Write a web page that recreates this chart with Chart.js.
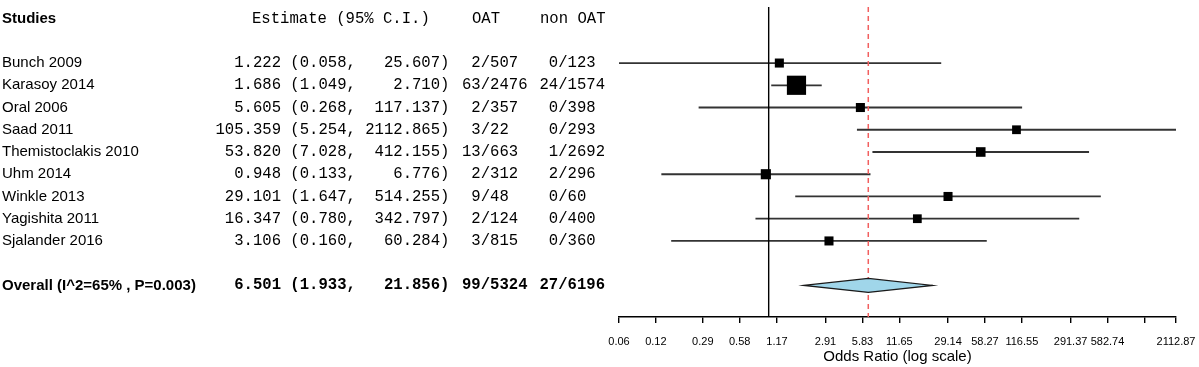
<!DOCTYPE html>
<html>
<head>
<meta charset="utf-8">
<script src="https://cdn.jsdelivr.net/npm/chart.js@4.4.1/dist/chart.umd.min.js"></script>
<style>
  html, body { margin: 0; background: #fff; }
  #wrap { position: relative; width: 1199px; height: 367px; }
</style>
</head>
<body>
<div id="wrap"><canvas id="forest"></canvas></div>
<script>
// Forest plot OAT vs non OAT — odds ratio per studie, log-schaal
// Rij i = studie i, kop op rij -2, overall op rij 10

const studies   = ['Bunch 2009', 'Karasoy 2014', 'Oral 2006', 'Saad 2011', 'Themistoclakis 2010',
                   'Uhm 2014', 'Winkle 2013', 'Yagishita 2011', 'Sjalander 2016'];
const estimate  = [1.222, 1.686, 5.605, 105.359, 53.820, 0.948, 29.101, 16.347, 3.106];
const lower     = [0.058, 1.049, 0.268, 5.254, 7.028, 0.133, 1.647, 0.780, 0.160];
const upper     = [25.607, 2.710, 117.137, 2112.865, 412.155, 6.776, 514.255, 342.797, 60.284];
const oatEvents = [2, 63, 2, 3, 13, 2, 9, 2, 3];
const oatTotal  = [507, 2476, 357, 22, 663, 312, 48, 124, 815];
const nonEvents = [0, 24, 0, 0, 1, 2, 0, 0, 0];
const nonTotal  = [123, 1574, 398, 293, 2692, 296, 60, 400, 360];
const weights   = [8, 36, 8, 7.5, 9, 10, 8, 7.5, 8];   // gewicht (%), geschat uit de vierkantjes

const overallLabel = 'Overall (I^2=65% , P=0.003)';
const overallEst = 6.501;
const overallLo  = 1.933;
const overallHi  = 21.856;

const tickValues = [0.06, 0.12, 0.29, 0.58, 1.17, 2.91, 5.83, 11.65, 29.14, 58.27, 116.55, 291.37, 582.74, 1165.48, 2112.87];
const tickLabels = ['0.06', '0.12', '0.29', '0.58', '1.17', '2.91', '5.83', '11.65', '29.14', '58.27', '116.55', '291.37', '582.74', '', '2112.87'];

const HEADER_ROW = -2;
const OVERALL_ROW = 10;
const Y_MIN = -2.52, Y_MAX = 11.42;

const SANS = '"Liberation Sans", Arial, sans-serif';
const MONO = '"Liberation Mono", "DejaVu Sans Mono", monospace';

const sum = arr => arr.reduce((a, b) => a + b, 0);

function ciText(est, lo, hi) {
    return est.toFixed(3).padStart(7) + ' (' + lo.toFixed(3) + ', ' + hi.toFixed(3).padStart(8) + ')';
}
function countText(ev, tot) {
    return String(ev).padStart(2) + '/' + tot;
}

// ── tabel links + ruit voor overall ──────────────────────────────────────

const tablePlugin = {
    id: 'forestTable',
    afterDatasetsDraw(chart) {
        const { ctx, scales: { x, y } } = chart;
        const cy = y.getPixelForValue(OVERALL_ROW);
        const h = 7;
        ctx.save();
        ctx.beginPath();
        ctx.moveTo(x.getPixelForValue(overallLo), cy);
        ctx.lineTo(x.getPixelForValue(overallEst), cy - h);
        ctx.lineTo(x.getPixelForValue(overallHi), cy);
        ctx.lineTo(x.getPixelForValue(overallEst), cy + h);
        ctx.closePath();
        ctx.fillStyle = '#a0d6ea';
        ctx.fill();
        ctx.lineWidth = 1.2;
        ctx.strokeStyle = '#1a1a1a';
        ctx.stroke();
        ctx.restore();
    },
    afterDraw(chart) {
        const { ctx, scales: { y } } = chart;
        ctx.save();
        ctx.fillStyle = '#000';
        ctx.textBaseline = 'middle';
        ctx.textAlign = 'left';

        const hy = y.getPixelForValue(HEADER_ROW);
        ctx.font = 'bold 15px ' + SANS;
        ctx.fillText('Studies', 2, hy);
        ctx.font = '15.6px ' + MONO;
        ctx.fillText('Estimate (95% C.I.)', 252, hy);
        ctx.fillText('OAT', 472, hy);
        ctx.fillText('non OAT', 540, hy);

        studies.forEach((name, i) => {
            const py = y.getPixelForValue(i);
            ctx.font = '15px ' + SANS;
            ctx.fillText(name, 2, py);
            ctx.font = '15.6px ' + MONO;
            ctx.fillText(ciText(estimate[i], lower[i], upper[i]), 215.5, py);
            ctx.fillText(countText(oatEvents[i], oatTotal[i]), 462, py);
            ctx.fillText(countText(nonEvents[i], nonTotal[i]), 539.5, py);
        });

        const oy = y.getPixelForValue(OVERALL_ROW);
        ctx.font = 'bold 15px ' + SANS;
        ctx.fillText(overallLabel, 2, oy);
        ctx.font = 'bold 15.6px ' + MONO;
        ctx.fillText(ciText(overallEst, overallLo, overallHi), 215.5, oy);
        ctx.fillText(countText(sum(oatEvents), sum(oatTotal)), 462, oy);
        ctx.fillText(countText(sum(nonEvents), sum(nonTotal)), 539.5, oy);
        ctx.restore();
    },
};

// ── datasets ──────────────────────────────────────────────────────────────

const ciLines = studies.map((name, i) => ({
    label: name + ' CI',
    data: [{ x: lower[i], y: i }, { x: upper[i], y: i }],
    showLine: true,
    borderColor: '#333',
    borderWidth: 1.8,
    pointRadius: 0,
    order: 3,
}));

const datasets = [
    {
        label: 'Estimate',
        data: studies.map((name, i) => ({ x: estimate[i], y: i })),
        pointStyle: 'rect',
        pointRadius: weights.map(w => Math.sqrt(w) * 3.2 / Math.SQRT2),
        pointBackgroundColor: '#000',
        pointBorderWidth: 0,
        order: 0,
    },
    {
        label: 'Overall',
        data: [{ x: overallEst, y: Y_MIN }, { x: overallEst, y: Y_MAX }],
        showLine: true,
        borderColor: '#f25f5f',
        borderWidth: 1.5,
        borderDash: [5, 4],
        pointRadius: 0,
        order: 1,
    },
    {
        label: 'Null',
        data: [{ x: 1, y: Y_MIN }, { x: 1, y: Y_MAX }],
        showLine: true,
        borderColor: '#000',
        borderWidth: 1.4,
        pointRadius: 0,
        order: 2,
    },
    ...ciLines,
];

new Chart(document.getElementById('forest'), {
    type: 'scatter',
    data: { datasets },
    options: {
        responsive: true,
        maintainAspectRatio: false,
        animation: false,
        layout: { autoPadding: false, padding: { left: 619, right: 23, top: 7, bottom: 0 } },
        plugins: { legend: { display: false }, tooltip: { enabled: false } },
        scales: {
            x: {
                type: 'logarithmic',
                min: tickValues[0],
                max: tickValues[tickValues.length - 1],
                afterBuildTicks: scale => { scale.ticks = tickValues.map(v => ({ value: v })); },
                // laatste label mag over de rand; geen extra ruimte reserveren
                afterFit: scale => { scale.paddingLeft = 0; scale.paddingRight = 0; },
                ticks: {
                    autoSkip: false,
                    maxRotation: 0,
                    minRotation: 0,
                    padding: 12,
                    color: '#000',
                    font: { family: SANS, size: 11 },
                    callback: (v, i) => tickLabels[i],
                },
                grid: { drawOnChartArea: false, drawTicks: true, tickLength: 6, color: '#000', lineWidth: 1.4 },
                border: { display: true, color: '#000', width: 1.4 },
                title: {
                    display: true,
                    text: 'Odds Ratio (log scale)',
                    color: '#000',
                    font: { family: SANS, size: 15 },
                    padding: { top: -12.2, bottom: 1 },
                },
            },
            y: {
                type: 'linear',
                display: false,
                reverse: true,
                min: Y_MIN,
                max: Y_MAX,
            },
        },
    },
    plugins: [tablePlugin],
});
</script>
</body>
</html>
